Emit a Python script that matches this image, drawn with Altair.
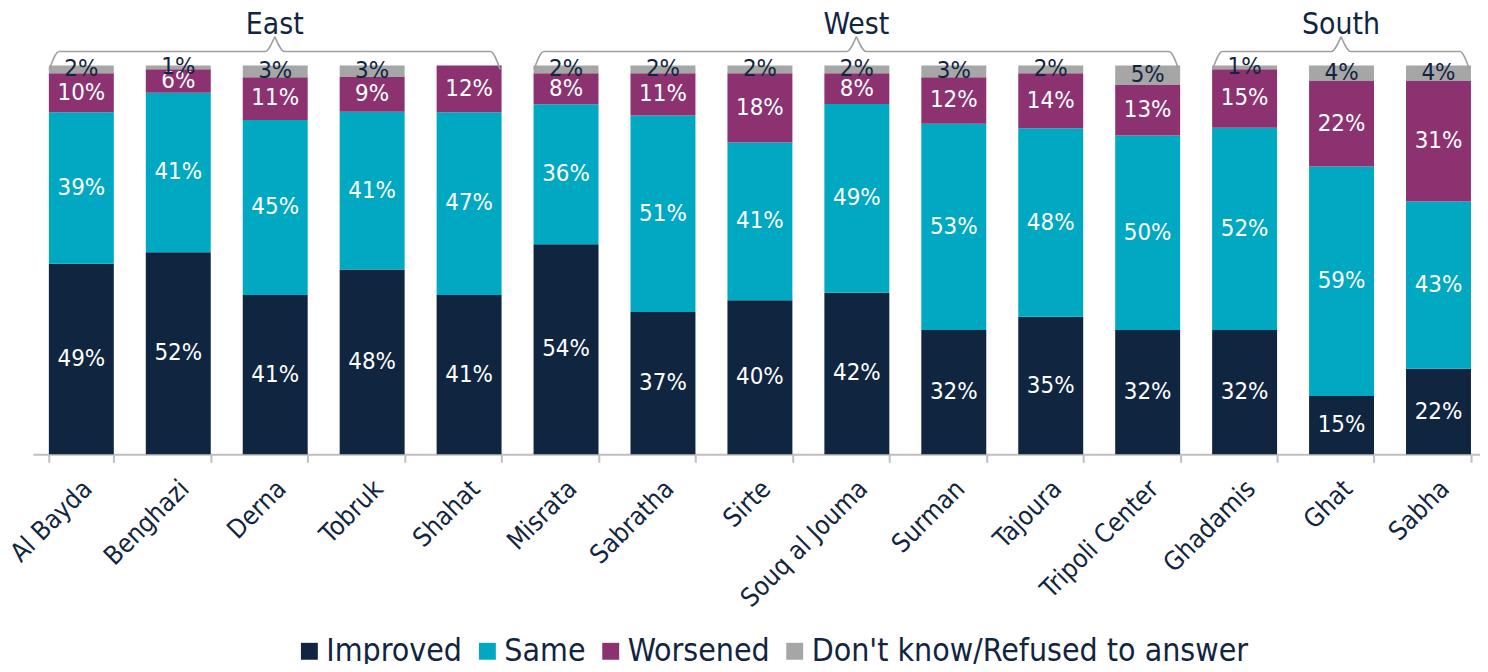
import altair as alt
import pandas as pd

cities = ["Al Bayda", "Benghazi", "Derna", "Tobruk", "Shahat", "Misrata", "Sabratha",
          "Sirte", "Souq al Jouma", "Surman", "Tajoura", "Tripoli Center", "Ghadamis",
          "Ghat", "Sabha"]
improved = [49, 52, 41, 48, 41, 54, 37, 40, 42, 32, 35, 32, 32, 15, 22]
same = [39, 41, 45, 41, 47, 36, 51, 41, 49, 53, 48, 50, 52, 59, 43]
worsened = [10, 6, 11, 9, 12, 8, 11, 18, 8, 12, 14, 13, 15, 22, 31]
dont_know = [2, 1, 3, 3, 0, 2, 2, 2, 2, 3, 2, 5, 1, 4, 4]
series = ["Improved", "Same", "Worsened", "Don't know/Refused to answer"]
colors = ["#0F2540", "#00A9C1", "#8C3270", "#A6A6A6"]

regions = ["East", "West", "South"]
region_first = [0, 5, 12]
region_last = [4, 11, 14]

NAVY = "#12253F"
FONT = "DejaVu Sans Condensed"

# stacked table (normalised to 100%)
rows = []
for i, c in enumerate(cities):
    vals = [improved[i], same[i], worsened[i], dont_know[i]]
    tot = float(sum(vals))
    cum = 0.0
    for s, v in zip(series, vals):
        rows.append({"city": c, "series": s, "value": v,
                     "start": cum / tot, "end": (cum + v) / tot,
                     "mid": (cum + v / 2) / tot, "label": f"{v}%"})
        cum += v
df = pd.DataFrame(rows)

# brace geometry derived from the region spans (index units on a 0..15 scale)
brace_rows = []
label_rows = []
for r, f, l in zip(regions, region_first, region_last):
    x0 = f + 0.17
    x1 = l + 0.82
    mid = (x0 + x1) / 2
    for half, pts in (("a", [(x0, 0.99), (x0 + 0.1, 1.036), (mid - 0.1, 1.036), (mid, 1.074)]),
                      ("b", [(mid, 1.074), (mid + 0.1, 1.036), (x1 - 0.1, 1.036), (x1, 0.99)])):
        for k, (px, py) in enumerate(pts):
            brace_rows.append({"region": r, "half": r + half, "k": k, "bx": px, "by": py})
    label_rows.append({"region": r, "bx": mid, "by": 1.103})
braces = pd.DataFrame(brace_rows)
rlabels = pd.DataFrame(label_rows)

RANGE = [0, 1462]
band_scale = alt.Scale(paddingInner=0.33, paddingOuter=0.165, range=RANGE)
xband = alt.X("city:N", sort=cities, title=None, scale=band_scale,
              axis=alt.Axis(labelAngle=-45, labelAlign="right", labelBaseline="top",
                            labelFontSize=26, labelColor=NAVY, labelFont=FONT,
                            labelOffset=-3, labelPadding=13,
                            tickBand="extent", tickColor="#BFBFBF", tickSize=8, tickWidth=2,
                            domainColor="#BFBFBF", domainWidth=2))
yscale = alt.Scale(domain=[0, 1])

bars = alt.Chart(df).mark_bar().encode(
    x=xband,
    y=alt.Y("start:Q", scale=yscale, axis=None),
    y2="end:Q",
    color=alt.Color("series:N", scale=alt.Scale(domain=series, range=colors),
                    legend=alt.Legend(title=None, orient="none", direction="horizontal",
                                      legendX=262, legendY=573, symbolType="square",
                                      symbolSize=289, symbolStrokeWidth=0,
                                      labelFontSize=32, labelColor=NAVY, labelFont=FONT,
                                      labelOffset=1, columnPadding=9, labelLimit=600)),
    order=alt.Order("start:Q"),
)

texts = alt.Chart(df).transform_filter("datum.value > 0").mark_text(
    font=FONT, fontSize=24, baseline="middle", align="center").encode(
    x=alt.X("city:N", sort=cities, scale=band_scale, axis=None),
    y=alt.Y("mid:Q", scale=yscale),
    text="label:N",
    color=alt.condition(f"datum.series == \"{series[3]}\"", alt.value(NAVY), alt.value("white")),
)

xq = alt.X("bx:Q", scale=alt.Scale(domain=[0, 15], range=RANGE, nice=False, zero=False), axis=None)
brace = alt.Chart(braces).mark_line(color="#A0A0A0", strokeWidth=1.6, interpolate="monotone",
                                    clip=False).encode(
    x=xq, y=alt.Y("by:Q", scale=yscale), detail="half:N", order="k:Q")
rtext = alt.Chart(rlabels).mark_text(font=FONT, fontSize=30, color=NAVY, baseline="middle").encode(
    x=xq, y=alt.Y("by:Q", scale=yscale), text="region:N")

chart = alt.layer(bars, texts, brace, rtext).resolve_scale(x="independent").properties(
    width=1455, height=391,
    autosize=alt.AutoSizeParams(type="none"),
    padding={"left": 25, "top": 56, "right": 0, "bottom": 209},
).configure_view(stroke=None)

chart.save("out.html", embed_options={"renderer": "svg", "actions": False})
